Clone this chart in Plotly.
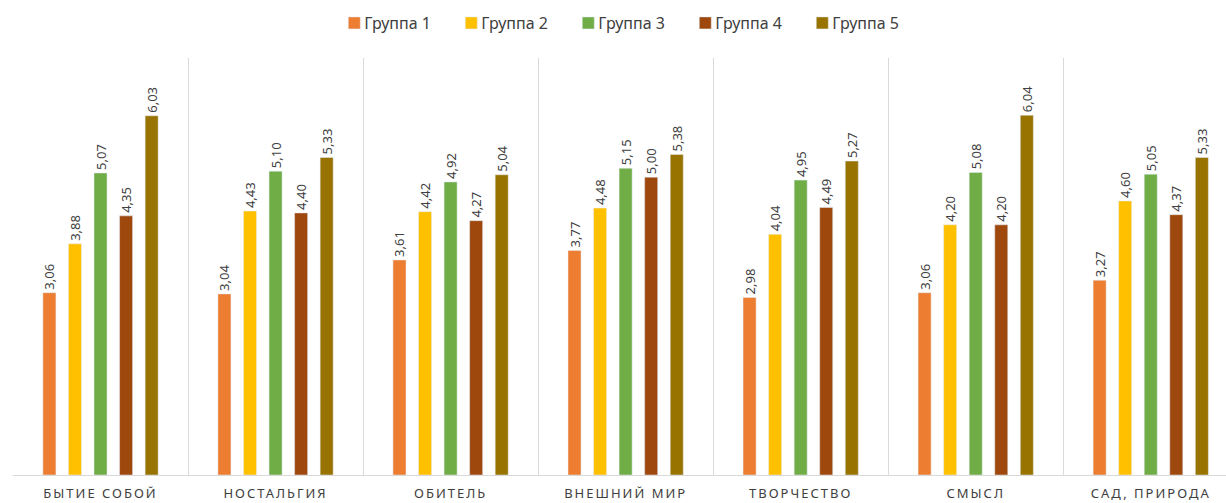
import plotly.graph_objects as go

categories = ["БЫТИЕ СОБОЙ", "НОСТАЛЬГИЯ", "ОБИТЕЛЬ", "ВНЕШНИЙ МИР", "ТВОРЧЕСТВО", "СМЫСЛ", "САД, ПРИРОДА"]
series_names = ["Группа 1", "Группа 2", "Группа 3", "Группа 4", "Группа 5"]
group1 = [3.06, 3.04, 3.61, 3.77, 2.98, 3.06, 3.27]
group2 = [3.88, 4.43, 4.42, 4.48, 4.04, 4.20, 4.60]
group3 = [5.07, 5.10, 4.92, 5.15, 4.95, 5.08, 5.05]
group4 = [4.35, 4.40, 4.27, 5.00, 4.49, 4.20, 4.37]
group5 = [6.03, 5.33, 5.04, 5.38, 5.27, 6.04, 5.33]
colors = ["#ED7D31", "#FFC000", "#70AD47", "#9E480E", "#997300"]

FONT = "Noto Sans"

fig = go.Figure()
for name, vals, col in zip(series_names, [group1, group2, group3, group4, group5], colors):
    fig.add_trace(go.Bar(
        x=categories, y=vals, name=name, marker_color=col,
        texttemplate="%{y:.2f}", textposition="outside", textangle=-90,
        constraintext="none",
        textfont=dict(family=FONT, size=13, color="#404040"),
        cliponaxis=False,
    ))

fig.update_layout(
    width=1226, height=503,
    margin=dict(l=13, r=0, t=58, b=28),
    paper_bgcolor="white", plot_bgcolor="white",
    barmode="group", bargap=0.27, bargroupgap=0.49,
    separators=",.",
    legend=dict(orientation="h", x=0.506, xanchor="center",
                yref="container", y=1 - 23 / 503, yanchor="middle",
                font=dict(family=FONT, size=16, color="#404040"),
                itemwidth=30, entrywidth=72, entrywidthmode="pixels",
                traceorder="normal"),
    showlegend=True,
    font=dict(family=FONT),
)

fig.update_xaxes(
    type="category", range=[-0.5, 6.43],
    tickson="boundaries", showgrid=True, gridcolor="#D9D9D9", gridwidth=1,
    showline=True, linecolor="#D9D9D9", linewidth=1,
    ticks="", ticklabelstandoff=6,
    tickfont=dict(family=FONT, size=13, color="#404040"),
)
fig.update_yaxes(range=[0, 7], showgrid=False, showticklabels=False, zeroline=False, showline=False)

post = """
var s=document.createElement('style');
s.innerHTML='body{margin:0;overflow:hidden;} .xtick text{letter-spacing:2px;} .legendtext{transform:translateX(-10px);}';
document.head.appendChild(s);
"""
fig.write_html("out.html", post_script=post, config={"displayModeBar": False})
